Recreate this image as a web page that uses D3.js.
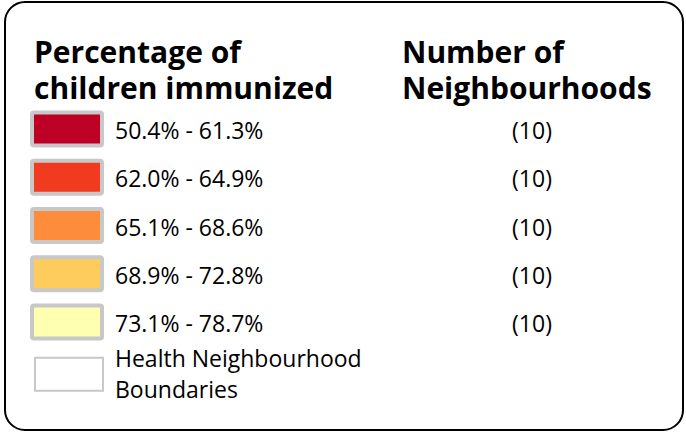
<!DOCTYPE html>
<html>
<head>
  <title>Percentage of children immunized - legend</title>
  <script src="https://d3js.org/d3.v7.min.js"></script>
  <style>
    body { margin: 0; background: #fff; }
    text { font-family: "Open Sans", "Noto Sans", sans-serif; fill: #000; }
  </style>
</head>
<body>
  <div id="chart"></div>

  <script>
    // Legend data
    const ranges = ['50.4% - 61.3%', '62.0% - 64.9%', '65.1% - 68.6%', '68.9% - 72.8%', '73.1% - 78.7%'];
    const counts = [10, 10, 10, 10, 10];
    const colors = ['#bd0026', '#f03b20', '#fd8d3c', '#fecc5c', '#ffffb2'];
    const titleLeft = ['Percentage of', 'children immunized'];
    const titleRight = ['Number of', 'Neighbourhoods'];
    const boundaryLabel = ['Health Neighbourhood', 'Boundaries'];

    const width = 686;
    const height = 432;

    const svg = d3.select('#chart')
      .append('svg')
      .attr('width', width)
      .attr('height', height);

    // Outer rounded frame
    svg.append('rect')
      .attr('x', 5)
      .attr('y', 2)
      .attr('width', 678)
      .attr('height', 428)
      .attr('rx', 20)
      .attr('fill', '#fff')
      .attr('stroke', '#000')
      .attr('stroke-width', 2);

    // Row positions
    const yScale = d3.scalePoint()
      .domain(ranges)
      .range([129, 322]);

    const swatchW = 70;
    const swatchH = 33;

    // Titles
    svg.append('text')
      .attr('x', 34)
      .attr('font-size', 30)
      .attr('font-weight', 'bold')
      .selectAll('tspan')
      .data(titleLeft)
      .enter().append('tspan')
      .attr('x', 34)
      .attr('y', (d, i) => 63 + i * 36)
      .text(d => d);

    svg.append('text')
      .attr('font-size', 30)
      .attr('font-weight', 'bold')
      .selectAll('tspan')
      .data(titleRight)
      .enter().append('tspan')
      .attr('x', 402)
      .attr('y', (d, i) => 63 + i * 36)
      .text(d => d);

    // Swatches
    const rows = svg.selectAll('.row')
      .data(ranges)
      .enter().append('g')
      .attr('class', 'row')
      .attr('transform', d => `translate(0, ${yScale(d)})`);

    rows.append('rect')
      .attr('x', 32)
      .attr('y', -swatchH / 2)
      .attr('width', swatchW)
      .attr('height', swatchH)
      .attr('rx', 2)
      .attr('fill', (d, i) => colors[i])
      .attr('stroke', '#c8c8c8')
      .attr('stroke-width', 4);

    rows.append('text')
      .attr('x', 115)
      .attr('y', 10)
      .attr('font-size', 23)
      .text(d => d);

    rows.append('text')
      .attr('x', 532)
      .attr('y', 10)
      .attr('font-size', 23)
      .attr('text-anchor', 'middle')
      .text((d, i) => `(${counts[i]})`);

    // Boundary entry
    const by = yScale(ranges[ranges.length - 1]) + yScale.step() + 4;
    svg.append('rect')
      .attr('x', 35)
      .attr('y', by - swatchH / 2)
      .attr('width', 68)
      .attr('height', swatchH)
      .attr('fill', '#fff')
      .attr('stroke', '#c8c8c8')
      .attr('stroke-width', 2);

    svg.append('text')
      .attr('font-size', 23)
      .selectAll('tspan')
      .data(boundaryLabel)
      .enter().append('tspan')
      .attr('x', 115)
      .attr('y', (d, i) => 367 + i * 31)
      .text(d => d);
  </script>
</body>
</html>
